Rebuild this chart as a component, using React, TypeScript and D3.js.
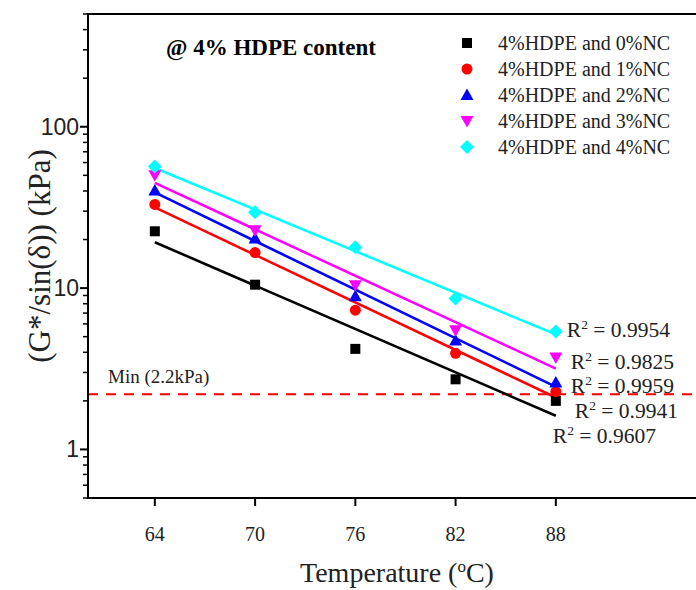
import React from 'react';
import * as d3 from 'd3';

const temperatures = [64, 70, 76, 82, 88];
const seriesNames = [
  '4%HDPE and 0%NC',
  '4%HDPE and 1%NC',
  '4%HDPE and 2%NC',
  '4%HDPE and 3%NC',
  '4%HDPE and 4%NC',
];
const nc0 = [22.5, 10.5, 4.2, 2.72, 2.0];
const nc1 = [33.0, 16.6, 7.3, 3.94, 2.28];
const nc2 = [40.3, 20.3, 8.9, 4.74, 2.6];
const nc3 = [50.0, 22.8, 10.4, 5.47, 3.72];
const nc4 = [56.8, 29.5, 17.9, 8.63, 5.39];
const r2Values = ['0.9607', '0.9941', '0.9959', '0.9825', '0.9954'];
const xTicks = [64, 70, 76, 82, 88];
const yTicks = [1, 10, 100];
const minLimit = 2.2;

const seriesValues = [nc0, nc1, nc2, nc3, nc4];
const colors = ['#000000', '#ff0000', '#0000ff', '#ff00ff', '#00ffff'];
const shapes = ['square', 'circle', 'up', 'down', 'diamond'];
// label offsets relative to fitted line end (px)
const r2Offsets = [
  [-3, 20],
  [19, 14],
  [15, -1],
  [15, -7],
  [11, -4],
];

const W = 696;
const H = 590;
const left = 88;
const top = 14;
const bottom = 498;

const x = d3.scaleLinear().domain([60, 100]).range([left, left + 40 * (401 / 24)]);
const y = d3.scaleLog().domain([0.5, 500]).range([bottom, top]);

const serif = '"Liberation Serif", "Times New Roman", serif';
const sans = '"Liberation Sans", Arial, sans-serif';

function fit(vals: number[]) {
  const ly = vals.map((v) => Math.log10(v));
  const mx = d3.mean(temperatures)!;
  const my = d3.mean(ly)!;
  let sxy = 0;
  let sxx = 0;
  temperatures.forEach((t, i) => {
    sxy += (t - mx) * (ly[i] - my);
    sxx += (t - mx) * (t - mx);
  });
  const b = sxy / sxx;
  const a = my - b * mx;
  return (t: number) => Math.pow(10, a + b * t);
}

function Marker({ shape, cx, cy, color }: { shape: string; cx: number; cy: number; color: string }) {
  if (shape === 'square') return <rect x={cx - 5} y={cy - 5} width={10} height={10} fill={color} />;
  if (shape === 'circle') return <circle cx={cx} cy={cy} r={5.5} fill={color} />;
  if (shape === 'up')
    return <path d={`M${cx},${cy - 6.5}L${cx + 6.5},${cy + 5}L${cx - 6.5},${cy + 5}Z`} fill={color} />;
  if (shape === 'down')
    return <path d={`M${cx},${cy + 6.5}L${cx + 6.5},${cy - 5}L${cx - 6.5},${cy - 5}Z`} fill={color} />;
  return <path d={`M${cx},${cy - 7}L${cx + 7},${cy}L${cx},${cy + 7}L${cx - 7},${cy}Z`} fill={color} />;
}

export default function App() {
  const minorTicks: number[] = [];
  for (let e = -1; e <= 2; e++) {
    for (let m = 2; m <= 9; m++) {
      const v = m * Math.pow(10, e);
      if (v >= 0.5 && v <= 500) minorTicks.push(v);
    }
  }

  return (
    <svg
      width={W}
      height={H}
      style={{ position: 'absolute', left: 0, top: 0, background: '#fff' }}
      xmlns="http://www.w3.org/2000/svg"
    >
      <rect x={0} y={0} width={W} height={H} fill="#fff" />
      {/* Min line */}
      <line
        x1={left}
        x2={W}
        y1={y(minLimit)}
        y2={y(minLimit)}
        stroke="#ff0000"
        strokeWidth={2}
        strokeDasharray="10,8"
      />
      <text x={108} y={383} fontFamily={serif} fontSize={19} fill="#222">
        Min (2.2kPa)
      </text>
      {/* fit lines */}
      {seriesValues.map((vals, si) => {
        const f = fit(vals);
        const t0 = temperatures[0];
        const t1 = temperatures[temperatures.length - 1];
        return (
          <line
            key={'fit' + si}
            x1={x(t0)}
            y1={y(f(t0))}
            x2={x(t1)}
            y2={y(f(t1))}
            stroke={colors[si]}
            strokeWidth={2.6}
          />
        );
      })}
      {/* markers */}
      {seriesValues.map((vals, si) =>
        vals.map((v, i) => (
          <Marker key={si + '-' + i} shape={shapes[si]} cx={x(temperatures[i])} cy={y(v)} color={colors[si]} />
        ))
      )}
      {/* R2 labels */}
      {seriesValues.map((vals, si) => {
        const f = fit(vals);
        const t1 = temperatures[temperatures.length - 1];
        const lx = x(t1) + r2Offsets[si][0];
        const ly = y(f(t1)) + r2Offsets[si][1];
        return (
          <text key={'r2' + si} x={lx} y={ly + 7} fontFamily={serif} fontSize={21.5} fill="#222">
            R<tspan dy={-8} fontSize={13.5}>2</tspan>
            <tspan dy={8}> = {r2Values[si]}</tspan>
          </text>
        );
      })}
      {/* axes */}
      <line x1={left} x2={W} y1={top} y2={top} stroke="#000" strokeWidth={2} />
      <line x1={left} x2={W} y1={bottom} y2={bottom} stroke="#000" strokeWidth={2} />
      <line x1={left} x2={left} y1={top - 1} y2={bottom + 1} stroke="#000" strokeWidth={2} />
      {xTicks.map((t) => (
        <g key={'xt' + t}>
          <line x1={x(t)} x2={x(t)} y1={bottom} y2={bottom + 8} stroke="#000" strokeWidth={2} />
          <text x={x(t)} y={541} textAnchor="middle" fontFamily={serif} fontSize={20} fill="#222">
            {t}
          </text>
        </g>
      ))}
      {yTicks.map((v) => (
        <g key={'yt' + v}>
          <line x1={left - 8} x2={left} y1={y(v)} y2={y(v)} stroke="#000" strokeWidth={2} />
          <text x={79} y={y(v) + 8} textAnchor="end" fontFamily={sans} fontSize={23} fill="#222">
            {v}
          </text>
        </g>
      ))}
      {minorTicks.map((v) => (
        <line key={'ym' + v} x1={left - 5} x2={left} y1={y(v)} y2={y(v)} stroke="#000" strokeWidth={1.5} />
      ))}
      {/* axis titles */}
      <text x={397} y={582} textAnchor="middle" fontFamily={serif} fontSize={28} fill="#222">
        Temperature (<tspan dy={-10} fontSize={17}>o</tspan>
        <tspan dy={10}>C)</tspan>
      </text>
      <text
        transform={`translate(50,256) rotate(-90)`}
        textAnchor="middle"
        fontFamily={serif}
        fontSize={31}
        fill="#222"
      >
        (G*/sin(δ)) (kPa)
      </text>
      {/* annotation */}
      <text x={166} y={55} fontFamily={serif} fontWeight="bold" fontSize={23} fill="#000">
        @ 4% HDPE content
      </text>
      {/* legend */}
      {seriesNames.map((name, i) => {
        const ly = 43 + i * 26;
        return (
          <g key={'lg' + i}>
            <Marker shape={shapes[i]} cx={467} cy={ly} color={colors[i]} />
            <text x={498} y={ly + 7} fontFamily={serif} fontSize={20} fill="#222">
              {name}
            </text>
          </g>
        );
      })}
    </svg>
  );
}
